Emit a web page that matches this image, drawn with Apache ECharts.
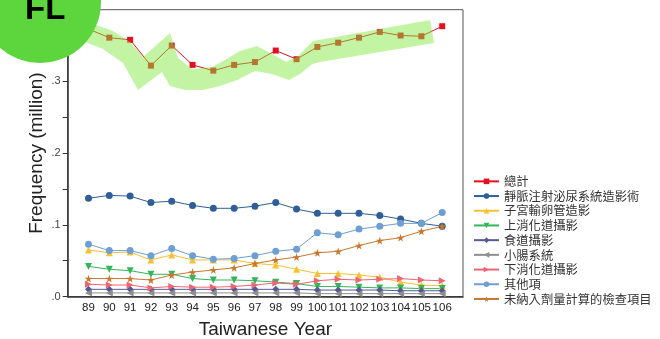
<!DOCTYPE html>
<html>
<head>
<meta charset="utf-8">
<script src="https://cdn.jsdelivr.net/npm/echarts@6/dist/echarts.min.js"></script>
<style>
  html, body { margin: 0; padding: 0; background: #fff; }
  #chart { width: 660px; height: 339px; }
</style>
</head>
<body>
<div id="chart"></div>
<script>
// Taiwanese calendar years (民國)
const years = [89, 90, 91, 92, 93, 94, 95, 96, 97, 98, 99, 100, 101, 102, 103, 104, 105, 106];

// Examination frequency, in millions
const total      = [0.373, 0.361, 0.358, 0.322, 0.350, 0.323, 0.315, 0.323, 0.327, 0.343, 0.331, 0.348, 0.354, 0.361, 0.369, 0.364, 0.363, 0.377];
const ivu        = [0.137, 0.141, 0.140, 0.131, 0.133, 0.127, 0.123, 0.123, 0.126, 0.131, 0.122, 0.116, 0.116, 0.116, 0.113, 0.108, 0.102, 0.098];
const hsg        = [0.065, 0.061, 0.062, 0.051, 0.058, 0.051, 0.051, 0.051, 0.046, 0.044, 0.038, 0.032, 0.032, 0.030, 0.027, 0.020, 0.016, 0.015];
const upperGI    = [0.042, 0.038, 0.036, 0.031, 0.031, 0.025, 0.023, 0.023, 0.022, 0.020, 0.018, 0.014, 0.014, 0.013, 0.012, 0.012, 0.011, 0.011];
const esophagus  = [0.010, 0.010, 0.010, 0.010, 0.010, 0.010, 0.010, 0.010, 0.010, 0.010, 0.010, 0.009, 0.009, 0.009, 0.009, 0.008, 0.008, 0.008];
const smallBowel = [0.005, 0.005, 0.005, 0.005, 0.005, 0.005, 0.005, 0.005, 0.005, 0.005, 0.005, 0.004, 0.004, 0.004, 0.004, 0.004, 0.004, 0.004];
const lowerGI    = [0.017, 0.016, 0.016, 0.012, 0.014, 0.013, 0.013, 0.014, 0.016, 0.019, 0.017, 0.022, 0.024, 0.023, 0.024, 0.025, 0.023, 0.022];
const others     = [0.073, 0.064, 0.064, 0.057, 0.067, 0.057, 0.052, 0.053, 0.057, 0.063, 0.066, 0.089, 0.086, 0.094, 0.098, 0.102, 0.102, 0.117];
const notInDose  = [0.025, 0.025, 0.025, 0.023, 0.030, 0.034, 0.037, 0.040, 0.046, 0.051, 0.055, 0.061, 0.063, 0.071, 0.078, 0.082, 0.091, 0.098];

// Outline of the hand-drawn highlight around the total line, [year, million]
const highlightOutline = [
  [87.39, 0.3968], [89.22, 0.3801], [90.18, 0.3703], [91.00, 0.3550], [91.62, 0.3340],
  [92.92, 0.3675], [93.30, 0.3326], [93.98, 0.3173], [94.94, 0.3201], [95.56, 0.3298],
  [96.28, 0.3424], [97.10, 0.3494], [97.82, 0.3382], [98.50, 0.3271], [99.07, 0.3354],
  [99.79, 0.3563], [105.42, 0.3856], [105.61, 0.3536], [100.13, 0.3271], [99.75, 0.3243],
  [99.17, 0.3103], [98.64, 0.3020], [97.82, 0.3103], [97.00, 0.3145], [96.14, 0.3020],
  [95.32, 0.2936], [94.50, 0.2880], [93.64, 0.2880], [92.92, 0.2936], [92.53, 0.3131],
  [91.38, 0.2880], [90.66, 0.3257], [89.70, 0.3452], [88.59, 0.3577], [87.39, 0.3675]
];

const yTicks = { min: 0, max: 0.4, step: 0.1 };

const pair = arr => years.map((y, i) => [y, arr[i]]);
const STAR = 'path://M50,0 L61,35 L98,35 L68,57 L79,91 L50,70 L21,91 L32,57 L2,35 L39,35 Z';

function lineSeries(name, data, color, symbol, extra) {
  return Object.assign({
    name: name,
    type: 'line',
    data: pair(data),
    symbol: symbol,
    symbolSize: 7,
    lineStyle: { width: 1, color: color },
    itemStyle: { color: color },
    z: 3
  }, extra || {});
}

const seriesList = [
  lineSeries('總計', total, '#e3101f', 'rect', { symbolSize: 6, z: 4 }),
  lineSeries('靜脈注射泌尿系統造影術', ivu, '#2f5f97', 'circle'),
  lineSeries('子宮輸卵管造影', hsg, '#f5c232', 'triangle'),
  lineSeries('上消化道攝影', upperGI, '#33b55a', 'triangle', { symbolRotate: 180 }),
  lineSeries('食道攝影', esophagus, '#545a92', 'diamond'),
  lineSeries('小腸系統', smallBowel, '#8e8e8e', 'triangle', { symbolRotate: 90 }),
  lineSeries('下消化道攝影', lowerGI, '#ef6574', 'triangle', { symbolRotate: -90 }),
  lineSeries('其他項', others, '#6d9fd3', 'circle'),
  lineSeries('未納入劑量計算的檢查項目', notInDose, '#c8772c', STAR, { symbolSize: 8 }),
  {
    type: 'custom',
    data: [0],
    silent: true,
    z: 6,
    renderItem: (params, api) => ({
      type: 'polygon',
      shape: { points: highlightOutline.map(p => api.coord(p)) },
      style: { fill: 'rgba(128,232,64,0.48)' }
    })
  }
];

const chart = echarts.init(document.getElementById('chart'), null, { renderer: 'canvas' });
chart.setOption({
  animation: false,
  backgroundColor: '#fff',
  grid: {
    left: 67.7, right: 197, top: 9.7, bottom: 42.5,
    outerBoundsMode: 'none',
    containLabel: false,
    show: true, borderColor: '#555', borderWidth: 1
  },
  xAxis: {
    type: 'value',
    min: 88, max: 107, interval: 1,
    name: 'Taiwanese Year',
    nameLocation: 'middle',
    nameGap: 24,
    nameMoveOverlap: false,
    nameTextStyle: { fontFamily: 'Liberation Sans', fontSize: 19, color: '#222' },
    axisLine: { lineStyle: { color: '#333', width: 1.5 } },
    axisTick: { show: false },
    splitLine: { show: false },
    axisLabel: {
      fontFamily: 'Liberation Sans', fontSize: 11.5, color: '#222', margin: 5,
      formatter: v => (v < years[0] || v > years[years.length - 1]) ? '' : String(v)
    }
  },
  yAxis: {
    type: 'value',
    min: yTicks.min, max: yTicks.max, interval: yTicks.step,
    name: 'Frequency (million)',
    nameLocation: 'middle',
    nameRotate: 90,
    nameGap: 21,
    nameMoveOverlap: false,
    nameTextStyle: { fontFamily: 'Liberation Sans', fontSize: 19, color: '#222' },
    axisLine: { show: true, lineStyle: { color: '#333', width: 1.5 } },
    axisTick: { show: true, length: 5, lineStyle: { color: '#333' } },
    minorTick: { show: true, splitNumber: 2, length: 5, lineStyle: { color: '#333' } },
    splitLine: { show: false },
    axisLabel: {
      fontFamily: 'Liberation Sans', fontSize: 11, color: '#444', margin: 7,
      showMaxLabel: false,
      formatter: v => v.toFixed(1).replace(/^0/, '')
    }
  },
  legend: {
    orient: 'vertical',
    left: 468, top: 169,
    itemWidth: 25, itemHeight: 7, itemGap: 0,
    data: seriesList.filter(s => s.name).map(s => s.name),
    textStyle: { fontFamily: 'Noto Sans CJK TC', fontSize: 12.3, lineHeight: 14.7, color: '#333' }
  },
  series: seriesList,
  graphic: [
    {
      type: 'circle', z: 100,
      shape: { cx: 40, cy: 2, r: 61 },
      style: { fill: '#5cd63c' }
    },
    {
      type: 'text', z: 101,
      x: 25, y: 10,
      style: { text: 'FL', fill: '#000', font: 'bold 33px "Liberation Sans"', verticalAlign: 'middle' }
    }
  ]
});
</script>
</body>
</html>
